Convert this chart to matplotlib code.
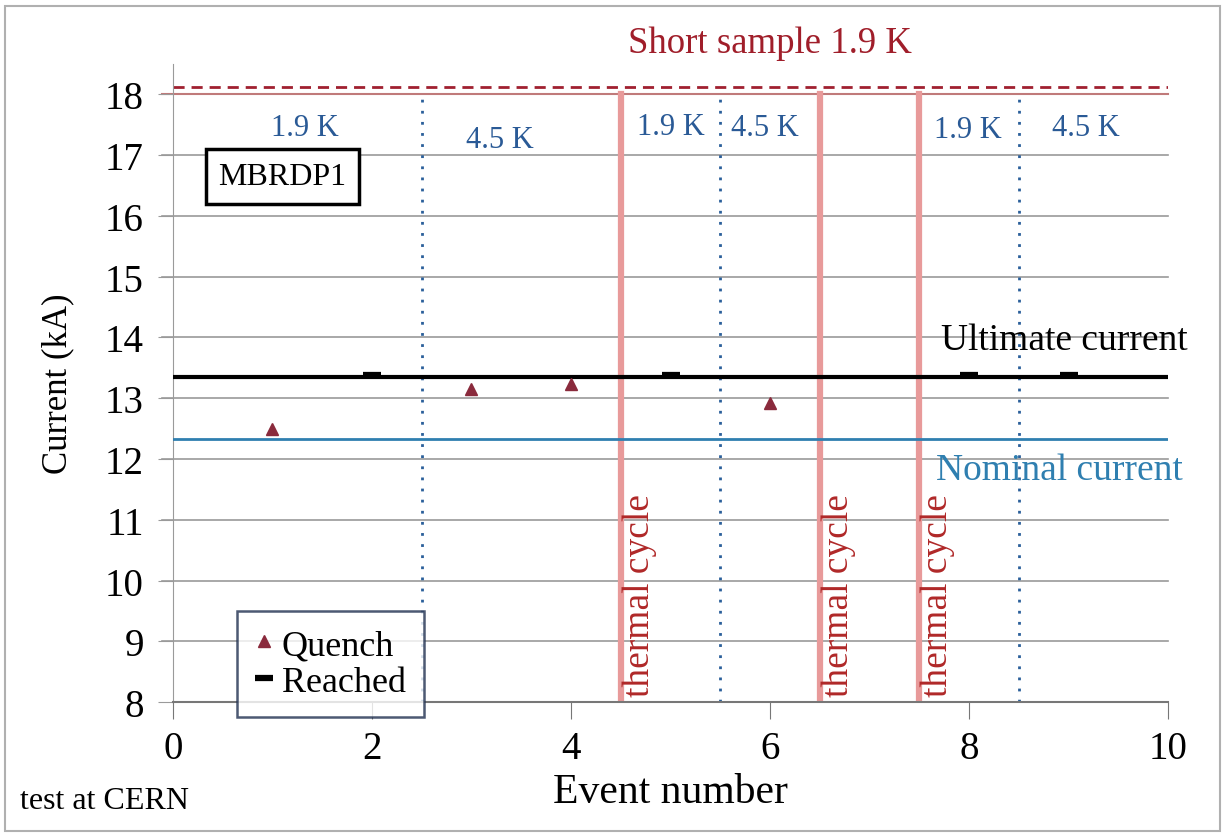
import matplotlib
matplotlib.use("Agg")
import matplotlib.pyplot as plt
from matplotlib.patches import Rectangle

# data
quench_event = [1, 3, 4, 6]
quench_current = [12.49, 13.15, 13.23, 12.93]
reached_event = [2, 5, 8, 9]
reached_current = [13.38, 13.38, 13.38, 13.38]

ultimate_current = 13.35
nominal_current = 12.33
short_sample = 18.12

thermal_cycles = [4.5, 6.5, 7.5]
temp_changes = [2.5, 5.5, 8.5]
temp_labels = ["1.9 K", "4.5 K", "1.9 K", "4.5 K", "1.9 K", "4.5 K"]
temp_label_x = [1.33, 3.29, 5.0, 5.95, 7.99, 9.17]
temp_label_y = [17.46, 17.26, 17.47, 17.45, 17.42, 17.45]

plt.rcParams["font.family"] = ["Liberation Serif", "DejaVu Serif"]

fig = plt.figure(figsize=(12.25, 8.37), dpi=100)
ax = fig.add_axes([0.1412, 0.160, 0.8123, 0.7623])

ax.set_xlim(0, 10)
ax.set_ylim(8, 18.5)
ax.set_yticks(range(8, 19))
ax.set_xticks(range(0, 11, 2))

# horizontal grid, reaching out over the y ticks
for y in range(9, 18):
    ax.axhline(y, color="#9a9a9a", lw=1.2, zorder=1, clip_on=False, xmin=-0.011)
ax.axhline(18, color="#c07a7a", lw=1.5, zorder=1, clip_on=False, xmin=-0.011)

for s in ["top", "right"]:
    ax.spines[s].set_visible(False)
ax.spines["left"].set_color("#9a9a9a")
ax.spines["bottom"].set_color("#777777")
ax.spines["bottom"].set_linewidth(1.5)
ax.tick_params(axis="y", length=11, color="#9a9a9a", labelsize=28, pad=10)
ax.tick_params(axis="x", length=12, color="#777777", labelsize=28, pad=8)

ax.axhline(short_sample, color="#a02030", lw=2, ls=(0, (4, 2.5)), zorder=2)
ax.axhline(ultimate_current, color="black", lw=3, zorder=3)
ax.axhline(nominal_current, color="#2f7fb0", lw=2, zorder=3)

for x in temp_changes:
    ax.plot([x, x], [8, 18], color="#2a5f9a", lw=2, ls=(0, (1, 3)), zorder=2)
for x in thermal_cycles:
    ax.plot([x, x], [8, 18], color="#e89a9a", lw=4.5, zorder=2)
    ax.text(x + 0.19, 8.1, "thermal cycle", rotation=90, color="#b02828",
            fontsize=27, ha="center", va="bottom")

for t, x, y in zip(temp_labels, temp_label_x, temp_label_y):
    ax.text(x, y, t, color="#2a5a96", fontsize=22, ha="center", va="center")

ax.text(6.0, 18.85, "Short sample 1.9 K", color="#a01e2a", fontsize=26.5,
        ha="center", va="center", clip_on=False)
ax.text(8.96, 13.97, "Ultimate current", color="black", fontsize=27,
        ha="center", va="center")
ax.text(8.91, 11.83, "Nominal current", color="#2f7fb0", fontsize=27,
        ha="center", va="center")
ax.text(1.1, 16.65, "MBRDP1", color="black", fontsize=23, ha="center",
        va="center",
        bbox=dict(boxstyle="square,pad=0.4", fc="white", ec="black", lw=2.5))

ax.plot(quench_event, quench_current, "^", color="#8a2a3c", ms=9,
        zorder=5, label="Quench")
ax.plot(reached_event, reached_current, "_", color="black", ms=13, mew=4.5,
        zorder=5, label="Reached")

leg = ax.legend(loc="lower left", bbox_to_anchor=(0.064, -0.0235),
                fontsize=26, frameon=True, fancybox=False, handlelength=0.5,
                handletextpad=0.25, borderpad=0.5, labelspacing=0.1,
                borderaxespad=0)
leg.get_frame().set_edgecolor("#203050")
leg.get_frame().set_linewidth(1.8)
leg.set_zorder(6)

ax.set_xlabel("Event number", fontsize=30, labelpad=4)
ax.set_ylabel("Current (kA)", fontsize=25, labelpad=22)

fig.text(0.016, 0.043, "test at CERN", fontsize=23, ha="left", va="center")
fig.patches.append(Rectangle((0.004, 0.006), 0.992, 0.986,
                             transform=fig.transFigure, fill=False,
                             ec="#b0b0b0", lw=1.5))

fig.savefig("out.png", dpi=100)
